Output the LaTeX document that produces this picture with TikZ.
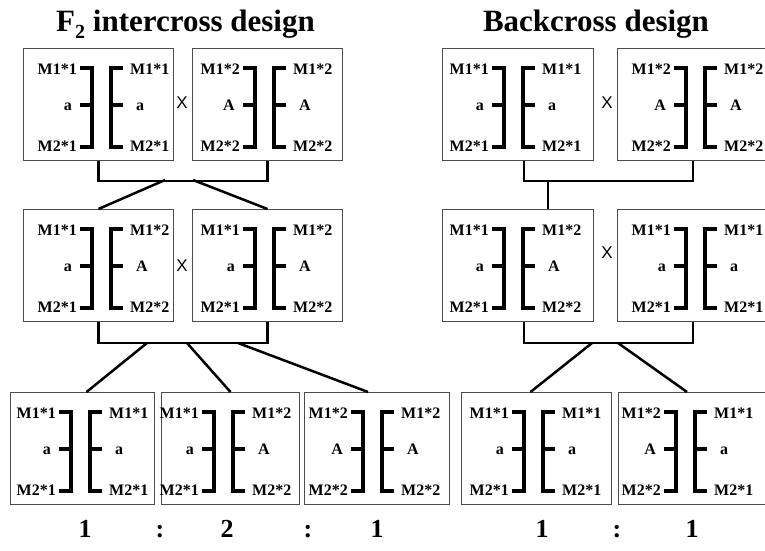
\documentclass[tikz,border=0pt]{standalone}
\usepackage{fontspec}
\setmainfont{Liberation Serif}
\newfontfamily\crossfont{Liberation Sans}
\usetikzlibrary{calc}

\tikzset{
  chr width/.store in=\chrW,
  chr shift/.store in=\chrS,
  chr width=150, chr shift=0,
  cbox/.style={draw=black!70, line width=1pt, inner sep=0pt, minimum height=112pt},
  bracket/.style={line width=3.2pt, line cap=butt, line join=miter},
  lbl/.style={font=\fontsize{16}{16}\selectfont\bfseries, inner sep=0pt,
              text height=10.5pt, text depth=0pt},
  link/.style={line width=2.5pt},
  crossmark/.style={font=\crossfont\fontsize{17}{17}\selectfont, inner sep=0pt},
  title/.style={font=\fontsize{31}{31}\selectfont\bfseries, inner sep=0pt, anchor=base},
  ratio/.style={font=\fontsize{26}{26}\selectfont\bfseries, inner sep=0pt, anchor=base},
  % one homologous chromosome pair inside a framed box
  pics/chrpair/.style n args={6}{code={
     \node[cbox, minimum width=\chrW pt, anchor=north west] (-box) at (0,0) {};
     \begin{scope}[xshift=\chrS pt]
       \draw[bracket] (57,20) -- (69,20) -- (69,99) -- (57,99) (57,57) -- (69,57);
       \draw[bracket] (100,20) -- (88,20) -- (88,99) -- (100,99) (100,57) -- (88,57);
       \node[lbl, anchor=east] (-lt) at (54,21) {#1};
       \node[lbl, anchor=east] (-lm) at (49,57) {#2};
       \node[lbl, anchor=east] (-lb) at (54,98) {#3};
       \node[lbl, anchor=west] (-rt) at (107,21) {#4};
       \node[lbl, anchor=west] (-rm) at (113,57) {#5};
       \node[lbl, anchor=west] (-rb) at (107,98) {#6};
     \end{scope}
  }},
}

\begin{document}
\begin{tikzpicture}[x=1pt, y=-1pt]
\useasboundingbox (0,0) rectangle (765,551);
\fill[white] (0,0) rectangle (765,551);
\clip (0,0) rectangle (765,551);

% ---------- titles ----------
\node[title] (ttlF) at (185.5,32) {F\raisebox{-7pt}{\fontsize{20}{20}\selectfont 2} intercross design};
\node[title] (ttlB) at (596,32) {Backcross design};

% ---------- F2 intercross ----------
\pic (t1) at (23,48) {chrpair={M1*1}{a}{M2*1}{M1*1}{a}{M2*1}};
\pic[chr shift=-6] (t2) at (192,48) {chrpair={M1*2}{A}{M2*2}{M1*2}{A}{M2*2}};
\node[crossmark] (x1) at (182,103) {X};

\pic (m1) at (23,209) {chrpair={M1*1}{a}{M2*1}{M1*2}{A}{M2*2}};
\pic[chr shift=-6] (m2) at (192,209) {chrpair={M1*1}{a}{M2*1}{M1*2}{A}{M2*2}};
\node[crossmark] (x2) at (182,266) {X};

\pic[chr width=144, chr shift=-8] (b1) at (10,392) {chrpair={M1*1}{a}{M2*1}{M1*1}{a}{M2*1}};
\pic[chr width=138, chr shift=-16] (b2) at (161,392) {chrpair={M1*1}{a}{M2*1}{M1*2}{A}{M2*2}};
\pic[chr width=145, chr shift=-10] (b3) at (304,392) {chrpair={M1*2}{A}{M2*2}{M1*2}{A}{M2*2}};

\draw[link] (t1-box.south) -- ++(0,20) -| (t2-box.south);
\coordinate (j1) at (165,180);
\coordinate (j2) at (193,180);
\draw[link] (j1) -- (m1-box.north);
\draw[link] (j2) -- (m2-box.north);

\draw[link] (m1-box.south) -- ++(0,21) -| (m2-box.south);
\coordinate (j3) at (147,343);
\coordinate (j4) at (187,343);
\coordinate (j5) at (238,343);
\draw[link] (j3) -- ([xshift=4pt]b1-box.north);
\draw[link] (j4) -- (b2-box.north);
\draw[link] (j5) -- ([xshift=-9pt]b3-box.north);

\node[ratio] (rF1) at (85,537) {1};
\node[ratio] (rF2) at (160,537) {:};
\node[ratio] (rF3) at (227,537) {2};
\node[ratio] (rF4) at (308,537) {:};
\node[ratio] (rF5) at (377,537) {1};

% ---------- Backcross ----------
\pic[chr width=151, chr shift=-7] (r1) at (442,48) {chrpair={M1*1}{a}{M2*1}{M1*1}{a}{M2*1}};
\pic[chr width=151, chr shift=0] (r2) at (617,48) {chrpair={M1*2}{A}{M2*2}{M1*2}{A}{M2*2}};
\node[crossmark] (x3) at (607,103) {X};

\pic[chr width=151, chr shift=-7] (rm1) at (442,209) {chrpair={M1*1}{a}{M2*1}{M1*2}{A}{M2*2}};
\pic[chr width=151, chr shift=0] (rm2) at (617,209) {chrpair={M1*1}{a}{M2*1}{M1*1}{a}{M2*1}};
\node[crossmark] (x4) at (607,253) {X};

\pic[chr width=150, chr shift=-6] (rb1) at (461,392) {chrpair={M1*1}{a}{M2*1}{M1*1}{a}{M2*1}};
\pic[chr width=151, chr shift=-11] (rb2) at (618,392) {chrpair={M1*2}{A}{M2*2}{M1*1}{a}{M2*1}};

\draw[link] ([xshift=6pt]r1-box.south) -- ++(0,20) -| (r2-box.south);
\coordinate (k1) at (548,180);
\draw[link] (k1) -- (k1 |- rm1-box.north);

\draw[link] ([xshift=6pt]rm1-box.south) -- ++(0,21) -| (rm2-box.south);
\coordinate (k2) at (592,343);
\coordinate (k3) at (618,343);
\draw[link] (k2) -- ([xshift=-6pt]rb1-box.north);
\draw[link] (k3) -- ([xshift=-7pt]rb2-box.north);

\node[ratio] (rB1) at (542,537) {1};
\node[ratio] (rB2) at (617,537) {:};
\node[ratio] (rB3) at (692,537) {1};
\end{tikzpicture}
\end{document}
